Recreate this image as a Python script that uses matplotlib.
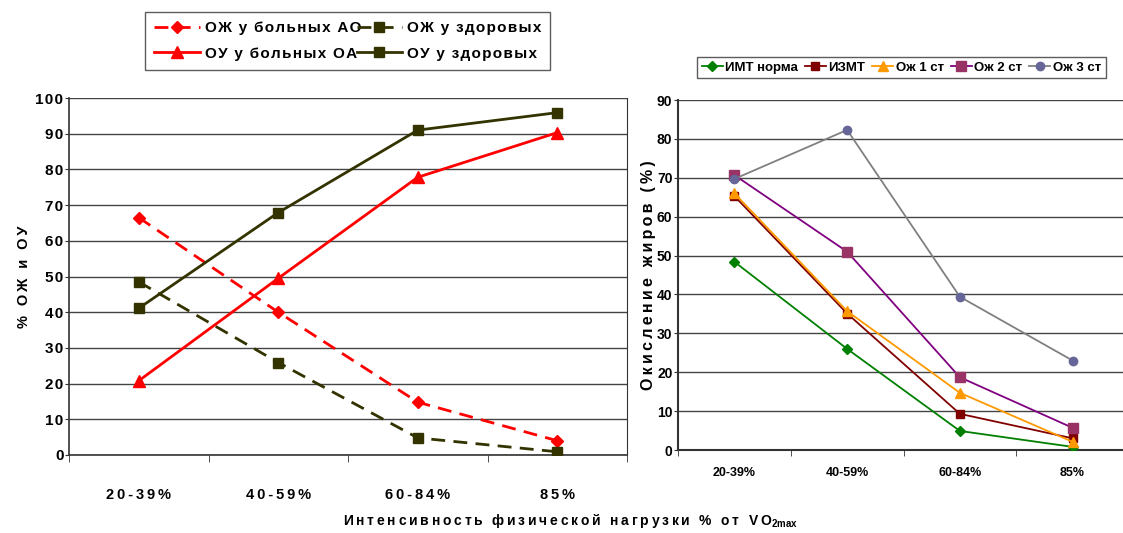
import matplotlib
matplotlib.use("Agg")
import matplotlib.pyplot as plt
import numpy as np

# ---- data ----
categories = ["20-39%", "40-59%", "60-84%", "85%"]

# left chart
oj_sick = [66.5, 40.0, 14.8, 4.0]      # ОЖ у больных АО
oj_healthy = [48.5, 25.9, 4.8, 0.9]    # ОЖ у здоровых
ou_sick = [20.8, 49.5, 77.8, 90.3]     # ОУ у больных ОА
ou_healthy = [41.1, 67.9, 91.0, 95.9]  # ОУ у здоровых
left_labels = ["ОЖ у больных АО", "ОЖ у здоровых", "ОУ у больных ОА", "ОУ у здоровых"]
left_yticks = [0, 10, 20, 30, 40, 50, 60, 70, 80, 90, 100]

# right chart
imt_norm = [48.4, 26.0, 4.9, 0.8]
izmt = [65.3, 35.1, 9.3, 3.0]
ok1 = [66.0, 35.7, 14.7, 2.1]
ok2 = [70.7, 51.0, 18.7, 5.7]
ok3 = [69.7, 82.3, 39.4, 23.0]
right_labels = ["ИМТ норма", "ИЗМТ", "Ож 1 ст", "Ож 2 ст", "Ож 3 ст"]
right_yticks = [0, 10, 20, 30, 40, 50, 60, 70, 80, 90]

plt.rcParams['font.family'] = ['Liberation Sans', 'DejaVu Sans']
plt.rcParams['mathtext.fontset'] = 'custom'
plt.rcParams['mathtext.rm'] = 'Liberation Sans:bold'
plt.rcParams['mathtext.bf'] = 'Liberation Sans:bold'
plt.rcParams['mathtext.default'] = 'bf'

HS = '\u200a'  # hair space for letter spacing
TS = '\u2009'  # thin space


def sp(s, ch=HS):
    return ch.join(list(s))


W, H = 1123, 533
fig = plt.figure(figsize=(W / 100, H / 100), dpi=100)


def pos(x0, y0, x1, y1):
    return [x0 / W, 1 - y1 / H, (x1 - x0) / W, (y1 - y0) / H]


# ---------------- left chart ----------------
ax = fig.add_axes(pos(69, 98, 627, 455))
x = np.arange(len(categories))
red = '#FF0000'
olive = '#333300'
ax.plot(x, oj_sick, color=red, lw=2.0, ls=(0, (5, 3)), marker='D', ms=6, zorder=3)
ax.plot(x, oj_healthy, color=olive, lw=2.0, ls=(0, (5, 3)), marker='s', ms=7, zorder=3)
ax.plot(x, ou_sick, color=red, lw=2.0, marker='^', ms=8, zorder=3)
ax.plot(x, ou_healthy, color=olive, lw=2.0, marker='s', ms=7, zorder=3)
ax.set_xlim(-0.5, 3.5)
ax.set_ylim(0, 100)
ax.set_yticks(left_yticks)
ax.set_yticklabels([sp(str(v)) for v in left_yticks], fontsize=11, fontweight='bold')
ax.yaxis.grid(True, color='#444444', lw=1)
ax.set_axisbelow(True)
ax.set_xticks(x)
ax.set_xticklabels([sp(c, TS) for c in categories], fontsize=10.5, fontweight='bold')
ax.set_xticks(np.arange(-0.5, 4.0, 1.0), minor=True)
ax.tick_params(axis='x', which='major', length=0, pad=24)
ax.tick_params(axis='x', which='minor', length=5, direction='out', color='#333333')
ax.tick_params(axis='y', length=3, pad=1, color='#333333')
for s in ['left', 'bottom']:
    ax.spines[s].set_color('#333333')
    ax.spines[s].set_linewidth(1.2)
ax.spines['top'].set_visible(False)
ax.spines['right'].set_color('#333333')
ax.set_ylabel(sp("% ОЖ и ОУ", TS), fontsize=10.5, fontweight='bold', labelpad=3)

h = ax.get_lines()
leg = fig.legend([h[0], h[2], h[1], h[3]],
                 [sp(left_labels[0]), sp(left_labels[2]), sp(left_labels[1]), sp(left_labels[3])],
                 ncol=2, loc='upper left', bbox_to_anchor=(145 / W, 1 - 12 / H), borderaxespad=0,
                 prop={'weight': 'bold', 'size': 11}, frameon=True, fancybox=False,
                 edgecolor='#333333', handlelength=3.0, handletextpad=0.3, columnspacing=-0.3,
                 borderpad=0.6, labelspacing=0.75)
leg.get_frame().set_linewidth(1.0)

# ---------------- right chart ----------------
ax2 = fig.add_axes(pos(678, 100, 1129, 450))
ax2.plot(x, imt_norm, color='#008000', lw=1.3, marker='D', ms=5, label=right_labels[0], zorder=3)
ax2.plot(x, izmt, color='#800000', lw=1.3, marker='s', ms=6, label=right_labels[1], zorder=3)
ax2.plot(x, ok1, color='#FF9900', lw=1.3, marker='^', ms=7, label=right_labels[2], zorder=3)
ax2.plot(x, ok2, color='#800080', lw=1.3, marker='s', ms=7, mfc='#993366', mec='#993366', label=right_labels[3], zorder=3)
ax2.plot(x, ok3, color='#808080', lw=1.3, marker='o', ms=6, mfc='#666699', mec='#666699', label=right_labels[4], zorder=3)
ax2.set_xlim(-0.5, 3.5)
ax2.set_ylim(0, 90)
ax2.set_yticks(right_yticks)
ax2.set_yticklabels([str(v) for v in right_yticks], fontsize=10, fontweight='bold')
ax2.yaxis.grid(True, color='#444444', lw=1)
ax2.set_axisbelow(True)
ax2.set_xticks(x)
ax2.set_xticklabels(categories, fontsize=9, fontweight='bold')
ax2.set_xticks(np.arange(-0.5, 4.0, 1.0), minor=True)
ax2.tick_params(axis='x', which='major', length=0, pad=12)
ax2.tick_params(axis='x', which='minor', length=4, direction='out', color='#333333')
ax2.tick_params(axis='y', length=3, pad=1, color='#333333')
for s in ['left', 'bottom']:
    ax2.spines[s].set_color('#333333')
    ax2.spines[s].set_linewidth(1.5)
ax2.spines['top'].set_visible(False)
ax2.spines['right'].set_visible(False)
ax2.set_ylabel(sp("Окисление жиров (%)", TS), fontsize=11.5, fontweight='bold', labelpad=1)

leg2 = fig.legend(ax2.get_legend_handles_labels()[0], right_labels, ncol=5, loc='upper left',
                  bbox_to_anchor=(697 / W, 1 - 57 / H),
                  prop={'weight': 'bold', 'size': 9.5}, frameon=True, fancybox=False,
                  edgecolor='#333333', handlelength=1.6, handletextpad=0.2, columnspacing=0.5,
                  borderpad=0.35, borderaxespad=0)
leg2.get_frame().set_linewidth(1.0)

xl = sp("Интенсивность физической нагрузки % от VO", TS)
fig.text(570 / W, 1 - 521 / H, xl + r"$_{2max}$",
         ha='center', va='center', fontsize=10, fontweight='bold')

fig.savefig("out.png", dpi=100)
